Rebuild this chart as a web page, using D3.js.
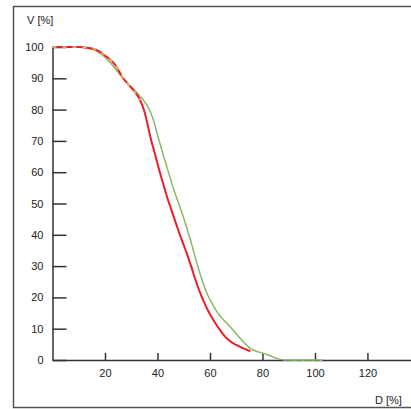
<!DOCTYPE html>
<html lang="en">
<head>
  <meta charset="UTF-8">
  <title>V vs D</title>
  <script src="https://d3js.org/d3.v7.min.js"></script>
  <style>
    body {
      margin: 0;
      background: #fff;
      font-family: "Liberation Sans", Arial, sans-serif;
    }
    .axis path, .axis line {
      stroke: #333;
      stroke-width: 1.5;
    }
    .axis text {
      font-size: 11px;
      fill: #222;
      font-family: "Liberation Sans", Arial, sans-serif;
    }
    .title {
      font-size: 11px;
      fill: #222;
    }
  </style>
</head>
<body>
  <svg width="411" height="409"></svg>
  <script>
    // red curve
    const redD = [0, 10, 15, 18, 20, 22, 24.5, 26.5, 29, 32, 33.4, 35, 36.3, 37.5, 39, 40.4, 42, 43.5, 45.5, 47.5, 49.5, 51.2, 53, 54.4, 56, 57.5, 59, 61, 62.5, 63.9, 65.5, 67.7, 70, 72.5, 75.4];
    const redV = [100, 100, 99.5, 98.5, 97.3, 96, 93.5, 90.5, 88, 85, 83, 79.5, 75, 70.5, 66, 61.5, 56.8, 52.5, 47.5, 42.5, 37.8, 34, 29.5, 25.8, 22, 19, 16.2, 13.2, 11.2, 9.5, 7.7, 6, 4.8, 3.8, 2.8];
    // green curve
    const greenD = [0, 10, 15, 18, 22, 25.8, 29, 32.3, 35, 37, 38.5, 40.3, 42.2, 44, 46, 48.7, 50.5, 52.5, 54, 55.5, 57, 59, 61, 63, 65.2, 67.5, 70, 72.5, 75.4, 78, 80.5, 83.7, 86.8, 90, 103];
    const greenV = [100, 100, 99.3, 98.1, 95, 91.1, 88, 85.3, 82.6, 79.8, 76.5, 71, 65.5, 60.5, 55, 48.5, 44, 38.5, 34, 29.5, 25.5, 21, 17.8, 15, 12.8, 10.8, 8.4, 6, 3.7, 2.7, 2.1, 1.1, 0.2, 0, 0];

    const xTicks = [20, 40, 60, 80, 100, 120];
    const yTicks = [0, 10, 20, 30, 40, 50, 60, 70, 80, 90, 100];

    const svg = d3.select("svg");

    // frame
    svg.append("rect")
      .attr("x", 13.5).attr("y", 6.5)
      .attr("width", 420).attr("height", 401)
      .attr("fill", "none")
      .attr("stroke", "#555")
      .attr("stroke-width", 1.5);

    const x = d3.scaleLinear().domain([0, 136.4]).range([52.5, 410.5]);
    const y = d3.scaleLinear().domain([0, 100]).range([360, 47]);

    svg.append("g")
      .attr("class", "axis")
      .attr("transform", "translate(0,360)")
      .call(d3.axisBottom(x).tickValues(xTicks).tickSize(-7).tickSizeOuter(0).tickPadding(9));

    svg.append("g")
      .attr("class", "axis")
      .attr("transform", "translate(52.5,0)")
      .call(d3.axisLeft(y).tickValues(yTicks).tickSize(-14).tickSizeOuter(0).tickPadding(9));

    svg.append("text").attr("class", "title")
      .attr("x", 27).attr("y", 24).text("V [%]");
    svg.append("text").attr("class", "title")
      .attr("x", 375).attr("y", 404).text("D [%]");

    const line = d3.line()
      .x(d => x(d[0]))
      .y(d => y(d[1]))
      .curve(d3.curveMonotoneX);

    const green = greenD.map((d, i) => [d, greenV[i]]);
    const red = redD.map((d, i) => [d, redV[i]]);

    svg.append("path")
      .attr("d", line(green))
      .attr("fill", "none")
      .attr("stroke", "#84b94f")
      .attr("stroke-width", 1.4);
    svg.append("path")
      .attr("d", line(green))
      .attr("fill", "none")
      .attr("stroke", "#9fb6b0")
      .attr("stroke-width", 1.4)
      .attr("stroke-dasharray", "2,7");

    svg.append("path")
      .attr("d", line(red))
      .attr("fill", "none")
      .attr("stroke", "#ef1d27")
      .attr("stroke-width", 2);
    svg.append("path")
      .attr("d", line(red.filter(d => d[0] <= 34)))
      .attr("fill", "none")
      .attr("stroke", "#d9cf6a")
      .attr("stroke-width", 1.4)
      .attr("stroke-dasharray", "4,6");
  </script>
</body>
</html>
